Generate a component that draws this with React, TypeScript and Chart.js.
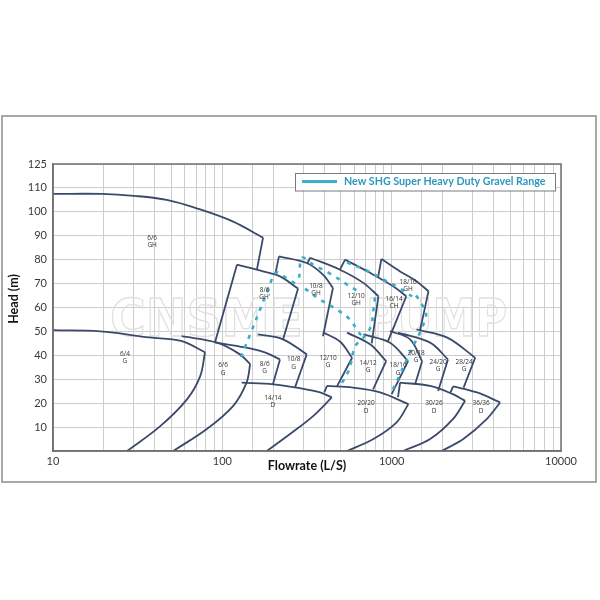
import { useEffect, useRef } from 'react';
import { Chart, registerables } from 'chart.js';

Chart.register(...registerables);

// ---------- axis ----------
const xMajorTicks = [10, 100, 1000, 10000];
const yTopTickLabel = '125';
const xTitle = 'Flowrate (L/S)';
const yTitle = 'Head (m)';
const legendText = 'New SHG Super Heavy Duty Gravel Range';

// ---------- pump envelopes (flow L/s, head m) ----------
const gh66Top = [[10, 107.5], [19.5, 107.5], [30, 106.7], [47, 105], [74, 101], [115, 96], [174, 89.2]];
const gh66Edge = [[174, 89.2], [160, 75.8]];

const g64Top = [[10, 50.5], [19, 50], [37, 47.5], [57, 46], [79, 41.3]];
const g64Edge = [[79, 41.3], [74, 31.3], [62, 21.7], [43, 10.4], [27.4, 0]];

const g66Top = [[57.5, 48], [93, 45.3], [127, 40.4], [146, 36.3]];
const g66Edge = [[146, 36.3], [139, 28.6], [116, 18.9], [81, 9.2], [51.3, 0]];

const gh86Left = [[90.4, 45.3], [122, 77.9]];
const gh86Top = [[122, 77.9], [174, 75.1], [219, 73], [280, 67.9]];
const gh86Edge = [[280, 67.9], [228, 46.5]];

const gh108Left = [[205, 73.6], [216, 81.4]];
const gh108Top = [[216, 81.4], [315, 78.6], [393, 73.75], [450, 68.2]];
const gh108Edge = [[450, 68.2], [393, 48]];

const gh1210Left = [[318, 78.5], [330, 80.8]];
const gh1210Top = [[330, 80.8], [495, 75.8], [680, 70.3], [835, 64.7]];
const gh1210Edge = [[835, 64.7], [762, 45]];

const ch1614Left = [[495, 75.8], [531, 80]];
const ch1614Top = [[531, 80], [745, 74.5], [1020, 68.9], [1220, 64.7]];
const ch1614Edge = [[1220, 64.7], [950, 45.8]];

const gh1816Left = [[831, 72.6], [870, 80.3]];
const gh1816Top = [[870, 80.3], [1121, 75.1], [1400, 71], [1650, 66.8]];
const gh1816Edge = [[1650, 66.8], [1470, 50.4]];

const g86Top = [[90.4, 45.4], [136, 43.3], [178, 41.25], [219, 38.3]];
const g86Edge = [[219, 38.3], [199, 27.9]];
const g108Top = [[162, 48.75], [228, 46.7], [315, 40.4]];
const g108Edge = [[315, 40.4], [269, 26.7]];
const g1210Top = [[393, 49.6], [495, 45.8], [584, 39]];
const g1210Edge = [[584, 39], [476, 27.1]];
const g1412Top = [[545, 49.5], [745, 44.6], [928, 37.6]];
const g1412Edge = [[928, 37.6], [777, 25.8]];
const g1816Top = [[680, 48.75], [978, 45.3], [1250, 37.6]];
const g1816Edge = [[1250, 37.6], [1000, 23.75]];
const g2018Top = [[978, 50.1], [1285, 46.7], [1513, 37.5]];
const g2018Edge = [[1513, 37.5], [1375, 27.9]];
const g2420Top = [[1090, 49.5], [1687, 45.3], [2150, 38.3]];
const g2420Edge = [[2150, 38.3], [1881, 25.1]];
const g2824Top = [[1400, 50.8], [2130, 47.4], [3113, 39]];
const g2824Edge = [[3113, 39], [2660, 26.5]];

const d1414Top = [[130, 28.6], [200, 27.9], [275, 26.5], [378, 24.5], [443, 22.4]];
const d1414Edge = [[443, 22.4], [345, 14.7], [251, 7.1], [183, 0]];
const d2020Left = [[400, 24.5], [415, 27.2]];
const d2020Top = [[415, 27.2], [590, 26.5], [854, 24.5], [1255, 19.6]];
const d2020Edge = [[1255, 19.6], [1070, 12], [780, 5], [545, 0]];
const d3026Left = [[1090, 22.5], [1121, 28.6]];
const d3026Top = [[1121, 28.6], [1687, 27.2], [2300, 23.75], [2715, 21]];
const d3026Edge = [[2715, 21], [2300, 13.3], [1687, 5], [1170, 0]];
const d3636Left = [[2213, 24.2], [2306, 27]];
const d3636Top = [[2306, 27], [3190, 24.5], [4370, 20.3]];
const d3636Edge = [[4370, 20.3], [3640, 13.3], [2650, 5], [1970, 0]];

// ---------- new SHG range (teal dashed) ----------
const shgA = [[129, 39.2], [146, 48.8], [167, 59.2], [186, 67.5], [208, 74.6], [241, 72.1], [276, 69.6]];
const shgB = [[284, 72.5], [296, 80.8], [344, 77.9], [432, 74.2], [545, 69.6], [651, 66.3]];
const shgDiag = [[308, 67.9], [378, 63.3], [463, 59.6], [567, 55], [633, 50], [696, 46.7]];
const shgC = [[798, 64.2], [777, 58.3], [755, 52.1], [668, 46.7], [608, 43.8], [576, 37.1], [552, 32.9], [516, 29.2], [482, 26.7]];
const shgTop = [[545, 78.8], [716, 75.4], [914, 71.3], [1121, 67.9], [1320, 64.6]];
const shgRight = [[1394, 65], [1472, 62.5], [1596, 57.5], [1533, 52.5], [1432, 47.9], [1337, 43.8], [1216, 37.5], [1121, 32.1], [1019, 25.8]];

// ---------- envelope labels ----------
const labelSizes = ['6/6', '8/6', '10/8', '12/10', '16/14', '18/16', '6/4', '6/6', '8/6', '10/8', '12/10', '14/12', '18/16', '20/18', '24/20', '28/24', '14/14', '20/20', '30/26', '36/36'];
const labelTypes = ['GH', "GH'", 'GH', 'GH', 'CH', 'GH', 'G', 'G', 'G', 'G', 'G', 'G', 'G', 'G', 'G', 'G', 'D', 'D', 'D', 'D'];
const labelFlow = [38.5, 178, 357, 617, 1033, 1250, 26.6, 101, 178, 264, 421, 726, 1092, 1394, 1881, 2680, 199, 706, 1778, 3373];
const labelHead = [87.5, 65.8, 67.5, 63.3, 62, 69, 39.2, 34.2, 35, 36.7, 37.5, 35.4, 34.2, 39.6, 35.8, 35.8, 20.8, 18.3, 18.3, 18.3];

const navyCurves = [
  gh66Top, gh66Edge, g64Top, g64Edge, g66Top, g66Edge,
  gh86Left, gh86Top, gh86Edge, gh108Left, gh108Top, gh108Edge,
  gh1210Left, gh1210Top, gh1210Edge, ch1614Left, ch1614Top, ch1614Edge,
  gh1816Left, gh1816Top, gh1816Edge,
  g86Top, g86Edge, g108Top, g108Edge, g1210Top, g1210Edge, g1412Top, g1412Edge,
  g1816Top, g1816Edge, g2018Top, g2018Edge, g2420Top, g2420Edge, g2824Top, g2824Edge,
  d1414Top, d1414Edge, d2020Left, d2020Top, d2020Edge, d3026Left, d3026Top, d3026Edge,
  d3636Left, d3636Top, d3636Edge,
];
const tealCurves = [shgA, shgB, shgDiag, shgC, shgTop, shgRight];

const NAVY = '#3b4a6b';
const TEAL = '#3aaecb';
const TEAL_TEXT = '#2a98bd';
const GRID = '#cdcdcd';
const AXIS = '#707070';
const TICK = '#3a3a3a';

const toPts = (arr: number[][]) => arr.map(([x, y]) => ({ x, y }));

const decorPlugin = {
  id: 'decor',
  beforeDraw(chart: any) {
    const { ctx, width, height, chartArea } = chart;
    ctx.save();
    ctx.fillStyle = '#ffffff';
    ctx.fillRect(0, 0, width, height);
    ctx.strokeStyle = '#8c8c8c';
    ctx.lineWidth = 1.5;
    ctx.strokeRect(chartArea.left - 51, chartArea.top - 48, 594, 366);
    ctx.restore();
  },
  beforeDatasetsDraw(chart: any) {
    const { ctx, chartArea } = chart;
    ctx.save();
    ctx.strokeStyle = '#e0e0e0';
    ctx.lineWidth = 1.3;
    ctx.font = 'bold 52px "DejaVu Sans"';
    ctx.textBaseline = 'alphabetic';
    const fit = (txt: string, x0: number, x1: number, base: number) => {
      const w = ctx.measureText(txt).width;
      ctx.save();
      ctx.translate(x0, base);
      ctx.scale((x1 - x0) / w, 1);
      ctx.strokeText(txt, 0, 0);
      ctx.restore();
    };
    const L = chartArea.left;
    const T = chartArea.top;
    fit('CNSME', L + 57, L + 250, T + 172);
    fit('PUMP', L + 313, L + 454, T + 172);
    ctx.restore();
  },
  afterDatasetsDraw(chart: any) {
    const { ctx, chartArea, scales } = chart;
    const xs = scales.x;
    const ys = scales.y;
    ctx.save();
    // plot frame
    ctx.strokeStyle = AXIS;
    ctx.lineWidth = 1.5;
    ctx.strokeRect(chartArea.left, chartArea.top, chartArea.right - chartArea.left, chartArea.bottom - chartArea.top);

    // envelope labels
    ctx.fillStyle = '#333';
    ctx.font = '6.5px "Open Sans"';
    ctx.textAlign = 'center';
    ctx.textBaseline = 'middle';
    for (let i = 0; i < labelSizes.length; i++) {
      const px = xs.getPixelForValue(labelFlow[i]);
      const py = ys.getPixelForValue(labelHead[i]);
      ctx.fillText(labelSizes[i], px, py - 3.6);
      ctx.fillText(labelTypes[i], px, py + 3.6);
    }

    // legend box
    const bx = chartArea.left + 242;
    const by = chartArea.top + 9;
    ctx.fillStyle = '#fff';
    ctx.fillRect(bx, by, 260, 17.5);
    ctx.strokeStyle = '#7a7a7a';
    ctx.lineWidth = 1;
    ctx.strokeRect(bx + 0.5, by + 0.5, 260, 17.5);
    ctx.strokeStyle = TEAL;
    ctx.lineWidth = 3;
    ctx.beginPath();
    ctx.moveTo(bx + 7, by + 8.5);
    ctx.lineTo(bx + 42, by + 8.5);
    ctx.stroke();
    ctx.fillStyle = TEAL_TEXT;
    ctx.font = 'bold 10.7px Lato';
    ctx.textAlign = 'left';
    ctx.fillText(legendText, bx + 49, by + 9);

    // axis titles
    ctx.fillStyle = '#111';
    ctx.font = 'bold 12.5px Lato';
    ctx.textAlign = 'center';
    ctx.fillText(xTitle, chartArea.left + 254, chartArea.bottom + 15);
    ctx.save();
    ctx.translate(chartArea.left - 39, chartArea.top + 135);
    ctx.rotate(-Math.PI / 2);
    ctx.fillText(yTitle, 0, 0);
    ctx.restore();
    ctx.restore();
  },
};

export default function App() {
  const ref = useRef<HTMLCanvasElement | null>(null);
  useEffect(() => {
    if (!ref.current) return;
    const datasets: any[] = [];
    tealCurves.forEach((c) =>
      datasets.push({
        data: toPts(c),
        showLine: true,
        borderColor: TEAL,
        borderWidth: 2.6,
        borderDash: [4, 6],
        pointRadius: 0,
        tension: 0.35,
        fill: false,
        order: 0,
      })
    );
    navyCurves.forEach((c) =>
      datasets.push({
        data: toPts(c),
        showLine: true,
        borderColor: NAVY,
        borderWidth: 1.8,
        pointRadius: 0,
        tension: 0.35,
        fill: false,
        order: 1,
      })
    );
    const chart = new Chart(ref.current, {
      type: 'scatter',
      data: { datasets },
      plugins: [decorPlugin],
      options: {
        responsive: false,
        animation: false,
        devicePixelRatio: 1,
        layout: { padding: { left: 8, right: 39, top: 164, bottom: 119 } },
        plugins: { legend: { display: false }, tooltip: { enabled: false } },
        scales: {
          x: {
            type: 'logarithmic',
            min: 10,
            max: 10000,
            grid: { color: GRID, lineWidth: 1, drawTicks: false },
            border: { color: AXIS, width: 1.5 },
            ticks: {
              autoSkip: false,
              maxRotation: 0,
              padding: 4,
              color: TICK,
              font: { family: 'Lato', size: 11 },
              callback: (v: any) => {
                const n = Number(v);
                return xMajorTicks.some((m) => Math.abs(m - n) < 1e-6) ? String(n) : '';
              },
            },
            afterFit: (s: any) => {
              s.height = 30;
            },
          },
          y: {
            type: 'linear',
            min: 0,
            max: 120,
            grid: { color: GRID, lineWidth: 1, drawTicks: false },
            border: { color: AXIS, width: 1.5 },
            ticks: {
              stepSize: 10,
              padding: 6,
              color: TICK,
              font: { family: 'Lato', size: 11 },
              callback: (v: any) => (v === 120 ? yTopTickLabel : v === 0 ? '' : String(v)),
            },
            afterFit: (s: any) => {
              s.width = 45;
            },
          },
        },
      },
    });
    return () => chart.destroy();
  }, []);
  return (
    <div style={{ position: 'fixed', left: 0, top: 0, width: 600, height: 600 }}>
      <canvas ref={ref} width={600} height={600} />
    </div>
  );
}
